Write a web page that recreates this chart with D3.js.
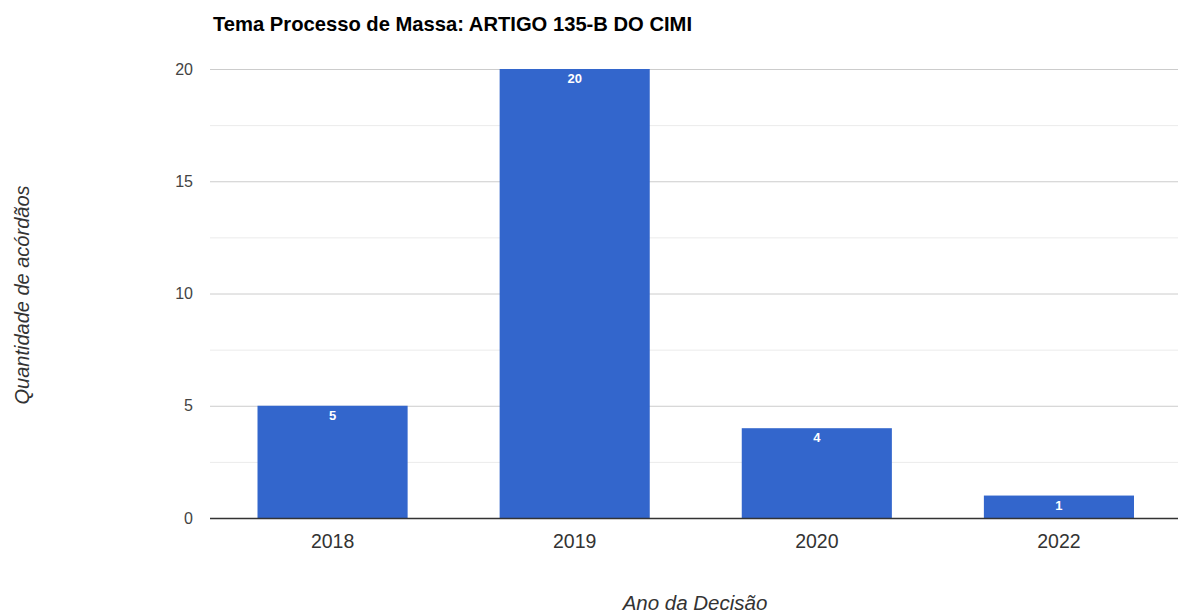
<!DOCTYPE html>
<html lang="pt">
<head>
    <meta charset="UTF-8">
    <title>Tema Processo de Massa</title>
    <style>
        body { margin: 0; background: #fff; }
        svg { display: block; font-family: "Liberation Sans", Arial, sans-serif; }
    </style>
</head>
<body>
    <div id="chart"></div>
    <script src="https://d3js.org/d3.v7.min.js"></script>
    <script>
        const years = ['2018', '2019', '2020', '2022']
        const counts = [5, 20, 4, 1]
        const yTicks = [0, 5, 10, 15, 20]
        const yMinor = [2.5, 7.5, 12.5, 17.5]

        const width = 1179
        const height = 614
        const margin = { top: 69, right: 1, bottom: 96, left: 210 }
        const innerW = width - margin.left - margin.right
        const innerH = height - margin.top - margin.bottom

        const svg = d3.select('#chart')
            .append('svg')
            .attr('width', width)
            .attr('height', height)

        const g = svg.append('g')
            .attr('transform', `translate(${margin.left}, ${margin.top})`)

        const x = d3.scaleBand()
            .domain(years)
            .range([1.5, innerW + 2])
            .paddingInner(0.38)
            .paddingOuter(0.19)

        const y = d3.scaleLinear()
            .domain([0, 20])
            .range([innerH, 0])

        // gridlines
        g.append('g')
            .selectAll('line.minor')
            .data(yMinor)
            .enter()
            .append('line')
            .attr('x1', 0)
            .attr('x2', innerW)
            .attr('y1', d => y(d) + 0.5)
            .attr('y2', d => y(d) + 0.5)
            .attr('stroke', '#ebebeb')

        g.append('g')
            .selectAll('line.major')
            .data(yTicks.filter(d => d > 0))
            .enter()
            .append('line')
            .attr('x1', 0)
            .attr('x2', innerW)
            .attr('y1', d => y(d) + 0.5)
            .attr('y2', d => y(d) + 0.5)
            .attr('stroke', '#cccccc')

        // y tick labels
        const yAxis = g.append('g')
            .call(d3.axisLeft(y).tickValues(yTicks).tickSize(0).tickPadding(17))
        yAxis.select('.domain').remove()
        yAxis.selectAll('text')
            .attr('fill', '#444')
            .style('font-size', '16px')
            .style('font-family', '"Liberation Sans", Arial, sans-serif')

        // bars
        g.append('g')
            .selectAll('rect')
            .data(years)
            .enter()
            .append('rect')
            .attr('x', d => x(d))
            .attr('y', (d, i) => y(counts[i]))
            .attr('width', x.bandwidth())
            .attr('height', (d, i) => innerH - y(counts[i]))
            .attr('fill', '#3366cc')

        // value labels
        g.append('g')
            .selectAll('text')
            .data(years)
            .enter()
            .append('text')
            .attr('x', d => x(d) + x.bandwidth() / 2)
            .attr('y', (d, i) => y(counts[i]) + 14)
            .attr('text-anchor', 'middle')
            .attr('fill', '#fff')
            .style('font-size', '13px')
            .style('font-weight', 'bold')
            .text((d, i) => counts[i])

        // baseline
        g.append('line')
            .attr('x1', 0)
            .attr('x2', innerW)
            .attr('y1', innerH + 0.5)
            .attr('y2', innerH + 0.5)
            .attr('stroke', '#333')
            .attr('stroke-width', 1.3)

        // x axis labels
        const xAxis = g.append('g')
            .attr('transform', `translate(0, ${innerH})`)
            .call(d3.axisBottom(x).tickSize(0).tickPadding(16))
        xAxis.select('.domain').remove()
        xAxis.selectAll('text')
            .attr('fill', '#333')
            .style('font-size', '19.5px')
            .style('font-family', '"Liberation Sans", Arial, sans-serif')

        // title
        svg.append('text')
            .attr('x', 213)
            .attr('y', 31)
            .attr('fill', '#000')
            .style('font-size', '20.2px')
            .style('font-weight', 'bold')
            .text('Tema Processo de Massa: ARTIGO 135-B DO CIMI')

        // axis titles
        svg.append('text')
            .attr('transform', `translate(29, 295) rotate(-90)`)
            .attr('text-anchor', 'middle')
            .attr('fill', '#333')
            .style('font-size', '20px')
            .style('font-style', 'italic')
            .text('Quantidade de acórdãos')

        svg.append('text')
            .attr('x', 695)
            .attr('y', 610)
            .attr('text-anchor', 'middle')
            .attr('fill', '#333')
            .style('font-size', '20.5px')
            .style('font-style', 'italic')
            .text('Ano da Decisão')
    </script>
</body>
</html>
